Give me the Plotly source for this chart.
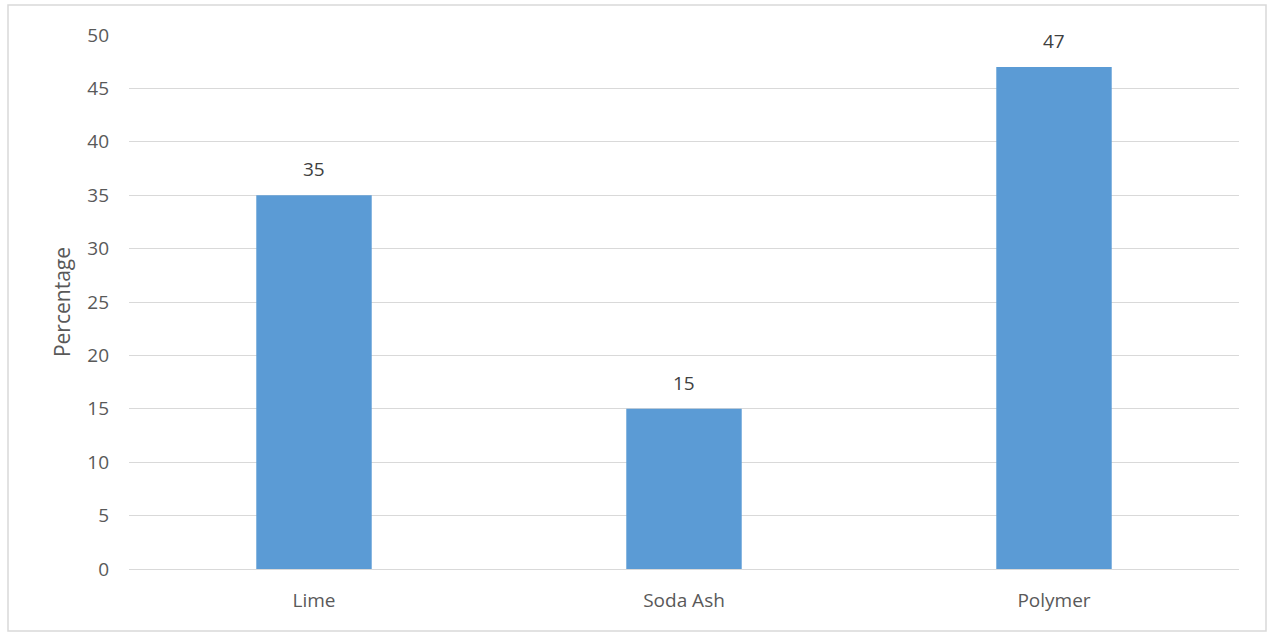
import plotly.graph_objects as go

categories = ["Lime", "Soda Ash", "Polymer"]
values = [35, 15, 47]
y_ticks = [0, 5, 10, 15, 20, 25, 30, 35, 40, 45, 50]

W, H = 1268, 639
L, R, T, B = 129, 29, 35, 70
pw, ph = W - L - R, H - T - B

def px_x(x):
    return (x - L) / pw

def px_y(y):
    return (H - B - y) / ph

font = "Open Sans, Carlito, Calibri, sans-serif"
fig = go.Figure(go.Bar(
    x=categories, y=values,
    marker=dict(color="#5b9bd5", line=dict(width=0)),
    width=0.312, hoverinfo="x+y",
))

fig.update_layout(
    width=W, height=H,
    margin=dict(l=L, r=R, t=T, b=B),
    plot_bgcolor="white", paper_bgcolor="white",
    showlegend=False,
    font=dict(family=font, color="#595959", size=19),
    xaxis=dict(showgrid=False, showline=False, ticks="", tickfont=dict(size=19),
               ticklabelstandoff=18),
    yaxis=dict(range=[0, 50], tickvals=y_ticks, showgrid=True, gridcolor="#d9d9d9",
               gridwidth=1, zeroline=True, zerolinecolor="#d9d9d9", zerolinewidth=1,
               tickfont=dict(size=19), ticklabelstandoff=19,
               title=dict(text="Percentage", font=dict(size=21, color="#595959"), standoff=10)),
    shapes=[dict(type="rect", xref="paper", yref="paper",
                 x0=px_x(8), x1=px_x(1266), y0=px_y(631), y1=px_y(5),
                 line=dict(color="#d9d9d9", width=1.5), fillcolor="rgba(0,0,0,0)", layer="below")],
    annotations=[dict(x=c, y=v, text=str(v), showarrow=False, yshift=26,
                      font=dict(size=19, color="#404040"))
                 for c, v in zip(categories, values)],
)

fig.write_html("out.html", config={"displayModeBar": False},
               post_script="document.body.style.margin='0';document.body.style.padding='0';")
